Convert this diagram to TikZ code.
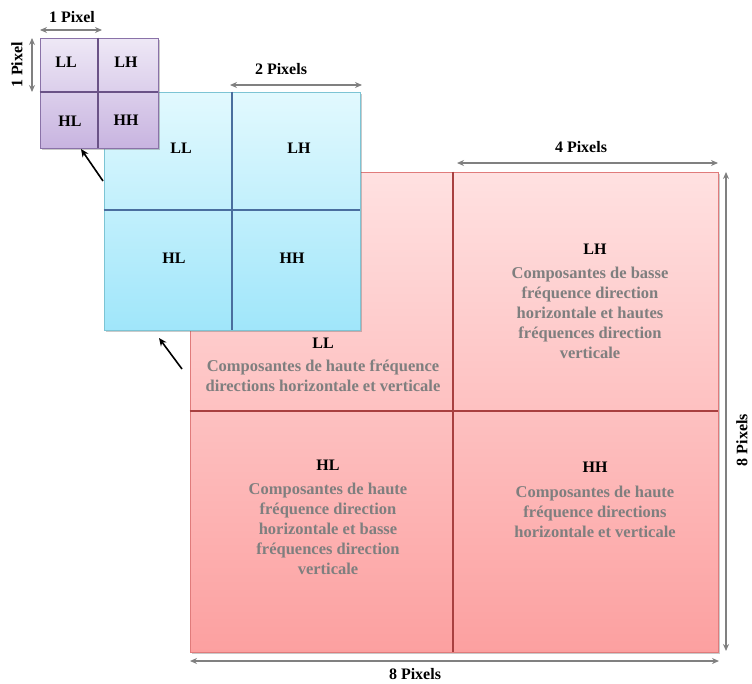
\documentclass[tikz,border=0pt]{standalone}
\usepackage{fontspec}
\setmainfont{Liberation Serif}
\usetikzlibrary{arrows.meta,shadows,calc}
\definecolor{puTop}{HTML}{EEE8F6}
\definecolor{puBot}{HTML}{C8B4E0}
\definecolor{puBorder}{HTML}{8A72A8}
\definecolor{puDiv}{HTML}{6A5286}
\definecolor{blTop}{HTML}{E2F9FE}
\definecolor{blBot}{HTML}{A0E6FA}
\definecolor{blBorder}{HTML}{7CC4D4}
\definecolor{blDiv}{HTML}{4A6E9E}
\definecolor{reTop}{HTML}{FFE1E1}
\definecolor{reBot}{HTML}{FCA0A0}
\definecolor{reBorder}{HTML}{E07B7B}
\definecolor{reDiv}{HTML}{A84040}
\definecolor{dimGray}{HTML}{808080}
\definecolor{descGray}{HTML}{7F7F7F}
\tikzset{
  gridbox/.style={draw, inner sep=0pt, line width=0.8pt,
    drop shadow={shadow xshift=1.5pt, shadow yshift=-1.5pt, opacity=0.35, fill=black!60}},
  dimarrow/.style={draw=dimGray, line width=1.6pt, {Stealth[length=7pt,width=6pt]}-{Stealth[length=7pt,width=6pt]}},
  ptrarrow/.style={draw=black, line width=1.6pt, -{Stealth[length=8pt,width=7pt]}},
  lbl/.style={font=\fontsize{16}{18}\selectfont\bfseries, text=black, inner sep=0pt},
  dimlbl/.style={font=\fontsize{16}{18}\selectfont\bfseries, text=black, inner sep=0pt},
  desc/.style={font=\fontsize{16.5}{20}\selectfont\bfseries, text=descGray, align=center, inner sep=0pt},
}
\begin{document}
\begin{tikzpicture}[x=1pt,y=-1pt]
\useasboundingbox (0,0) rectangle (752,683);
% red grid
\node[gridbox, draw=reBorder, top color=reTop, bottom color=reBot, minimum width=528pt, minimum height=480pt] (R) at (454,412) {};
\coordinate (Rc) at (453,411);
\draw[reDiv, line width=1.2pt] (Rc |- R.north) -- (Rc |- R.south);
\draw[reDiv, line width=1.2pt] (Rc -| R.west) -- (Rc -| R.east);
% blue grid
\node[gridbox, draw=blBorder, top color=blTop, bottom color=blBot, minimum width=256pt, minimum height=238pt] (B) at (232,211) {};
\coordinate (Bc) at (232,210);
\draw[blDiv, line width=1.2pt] (Bc |- B.north) -- (Bc |- B.south);
\draw[blDiv, line width=1.2pt] (Bc -| B.west) -- (Bc -| B.east);
% purple grid
\node[gridbox, draw=puBorder, top color=puTop, bottom color=puBot, minimum width=118pt, minimum height=110pt] (P) at (99,93) {};
\coordinate (Pc) at (98,92);
\draw[puDiv, line width=1.2pt] (Pc |- P.north) -- (Pc |- P.south);
\draw[puDiv, line width=1.2pt] (Pc -| P.west) -- (Pc -| P.east);
% purple labels
\node[lbl] (pLL) at (66,62) {LL};
\node[lbl] (pLH) at (126,62) {LH};
\node[lbl] (pHL) at (70,121) {HL};
\node[lbl] (pHH) at (126,120) {HH};
% blue labels
\node[lbl] (bLL) at (181,148) {LL};
\node[lbl] (bLH) at (299,148) {LH};
\node[lbl] (bHL) at (174,258) {HL};
\node[lbl] (bHH) at (292,258) {HH};
% red labels
\node[lbl] (rLL) at (323,343) {LL};
\node[desc] (rLLd) at (323,376) {Composantes de haute fréquence\\directions horizontale et verticale};
\node[lbl] (rLH) at (595,249) {LH};
\node[desc] (rLHd) at (590,313) {Composantes de basse\\fréquence direction\\horizontale et hautes\\fréquences direction\\verticale};
\node[lbl] (rHL) at (328,465) {HL};
\node[desc] (rHLd) at (328,529) {Composantes de haute\\fréquence direction\\horizontale et basse\\fréquences direction\\verticale};
\node[lbl] (rHH) at (595,467) {HH};
\node[desc] (rHHd) at (595,512) {Composantes de haute\\fréquence directions\\horizontale et verticale};
% dimension arrows
\coordinate (d1a) at (40,30); \coordinate (d1b) at (102,30);
\draw[dimarrow] (d1a) -- (d1b);
\node[dimlbl] (t1) at (72,17) {1 Pixel};
\coordinate (d2a) at (32,38); \coordinate (d2b) at (32,92);
\draw[dimarrow] (d2a) -- (d2b);
\node[dimlbl, rotate=90] (t2) at (17,65) {1 Pixel};
\coordinate (d3a) at (230,85); \coordinate (d3b) at (362,85);
\draw[dimarrow] (d3a) -- (d3b);
\node[dimlbl] (t3) at (281,69) {2 Pixels};
\coordinate (d4a) at (457,163); \coordinate (d4b) at (718,163);
\draw[dimarrow] (d4a) -- (d4b);
\node[dimlbl] (t4) at (581,147) {4 Pixels};
\coordinate (d5a) at (190,661); \coordinate (d5b) at (719,661);
\draw[dimarrow] (d5a) -- (d5b);
\node[dimlbl] (t5) at (415,674) {8 Pixels};
\coordinate (d6a) at (726,172); \coordinate (d6b) at (726,651);
\draw[dimarrow] (d6a) -- (d6b);
\node[dimlbl, rotate=90] (t6) at (742,440) {8 Pixels};
% pointer arrows
\coordinate (a1s) at (103,181); \coordinate (a1e) at (81,149);
\draw[ptrarrow] (a1s) -- (a1e);
\coordinate (a2s) at (182,369); \coordinate (a2e) at (159,338);
\draw[ptrarrow] (a2s) -- (a2e);
\end{tikzpicture}
\end{document}
